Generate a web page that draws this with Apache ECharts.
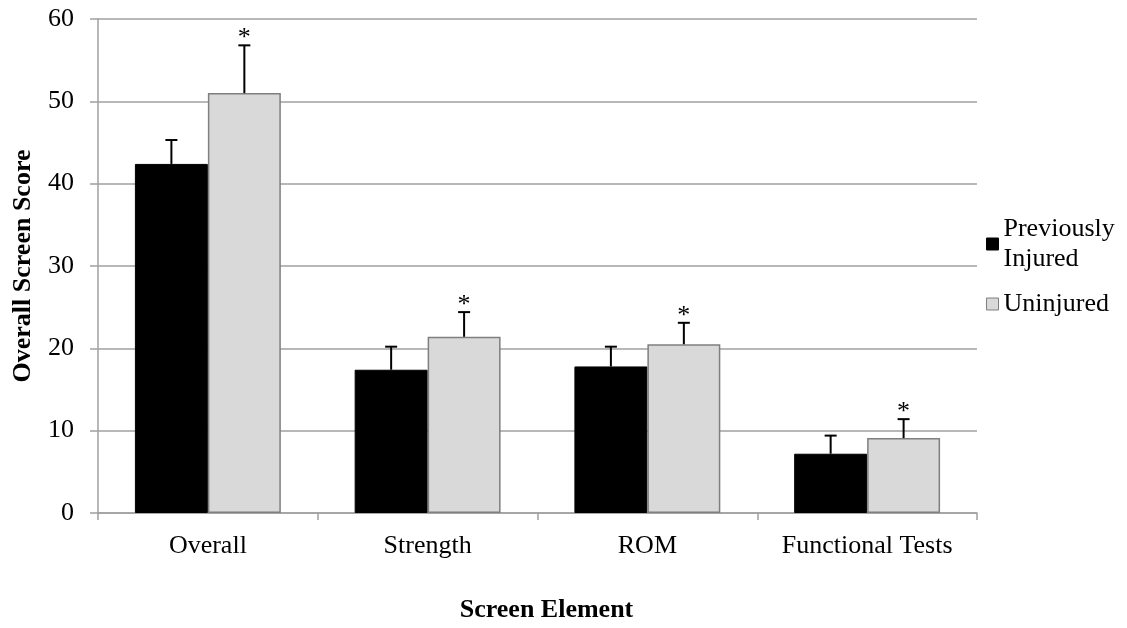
<!DOCTYPE html>
<html>
<head>
<meta charset="utf-8">
<script src="https://cdn.jsdelivr.net/npm/echarts@6/dist/echarts.min.js"></script>
<style>html,body{margin:0;padding:0;background:#fff}#c{width:1127px;height:628px}</style>
</head>
<body>
<div id="c"></div>
<script>
var categories = ['Overall', 'Strength', 'ROM', 'Functional Tests'];
var injured = [42.4, 17.4, 17.8, 7.2];
var injuredErr = [2.9, 2.8, 2.4, 2.2];
var uninjured = [51.0, 21.4, 20.5, 9.1];
var uninjuredErr = [5.8, 3.0, 2.6, 2.3];
var uninjuredSig = ['*', '*', '*', '*'];
var yTicks = [0, 10, 20, 30, 40, 50, 60];

var FONT = 'Liberation Serif, Times New Roman, serif';
var FS = 26;
var CAT_GAP = 0.336;

function errSeries(name, vals, errs, sign, marks) {
  var data = vals.map(function (v, i) { return [i, v, v + errs[i], marks ? marks[i] : '']; });
  return {
    type: 'custom',
    name: name + ' err',
    z: 5,
    silent: true,
    data: data,
    encode: { x: 0, y: [1, 2] },
    renderItem: function (params, api) {
      var band = api.size([1, 0])[0];
      var off = sign * band * (1 - CAT_GAP) / 4;
      var base = api.coord([api.value(0), api.value(1)]);
      var top = api.coord([api.value(0), api.value(2)]);
      var x = base[0] + off;
      var cap = 6;
      var children = [
        { type: 'line', shape: { x1: x, y1: base[1], x2: x, y2: top[1] }, style: { stroke: '#000', lineWidth: 2 } },
        { type: 'line', shape: { x1: x - cap, y1: top[1], x2: x + cap, y2: top[1] }, style: { stroke: '#000', lineWidth: 2 } }
      ];
      var m = api.value(3);
      if (m) {
        children.push({ type: 'text', style: { text: m, x: x, y: top[1] - 7, align: 'center', verticalAlign: 'middle', font: FS + 'px ' + FONT, fill: '#000' } });
      }
      return { type: 'group', children: children };
    }
  };
}

var chart = echarts.init(document.getElementById('c'));
chart.setOption({
  animation: false,
  backgroundColor: '#fff',
  textStyle: { fontFamily: FONT },
  grid: { left: 98, right: 150, top: 19, bottom: 115, containLabel: false },
  legend: {
    orient: 'vertical',
    left: 986,
    top: 199,
    padding: 0,
    itemWidth: 12,
    itemHeight: 12,
    itemGap: 0,
    icon: 'rect',
    selectedMode: false,
    textStyle: { fontFamily: FONT, fontSize: FS, color: '#000', lineHeight: 30 },
    data: [
      { name: 'Previously\nInjured', textStyle: { padding: [30, 0, 0, 0] }, itemStyle: { color: '#000', borderColor: '#000', borderWidth: 1 } },
      { name: 'Uninjured', itemStyle: { color: '#d9d9d9', borderColor: '#7f7f7f', borderWidth: 1 } }
    ]
  },
  xAxis: {
    type: 'category',
    data: categories,
    name: 'Screen Element',
    nameLocation: 'middle',
    nameGap: 97,
    nameTextStyle: { fontFamily: FONT, fontSize: FS, fontWeight: 'bold', color: '#000', verticalAlign: 'middle', padding: [0, 0, 0, 18] },
    axisLine: { lineStyle: { color: '#a0a0a0', width: 1.5 } },
    axisTick: { show: true, interval: 0, length: 7, lineStyle: { color: '#a0a0a0', width: 1.5 } },
    axisLabel: { interval: 0, hideOverlap: false, fontFamily: FONT, fontSize: FS, color: '#000', margin: 20 }
  },
  yAxis: {
    type: 'value',
    min: 0,
    max: 60,
    interval: 10,
    name: 'Overall Screen Score',
    nameLocation: 'middle',
    nameGap: 75,
    nameTextStyle: { fontFamily: FONT, fontSize: FS, fontWeight: 'bold', color: '#000', verticalAlign: 'middle' },
    axisLine: { show: true, lineStyle: { color: '#a0a0a0', width: 1.5 } },
    axisTick: { show: true, length: 8, lineStyle: { color: '#a0a0a0', width: 1.5 } },
    axisLabel: { fontFamily: FONT, fontSize: FS, color: '#000', margin: 24,
      formatter: function (v) { return yTicks.indexOf(v) >= 0 ? String(v) : ''; } },
    splitLine: { lineStyle: { color: '#a0a0a0', width: 1.5 } }
  },
  series: [
    { type: 'bar', name: 'Previously\nInjured', data: injured, barGap: '0%', barCategoryGap: (CAT_GAP * 100) + '%',
      itemStyle: { color: '#000', borderColor: '#000', borderWidth: 1 } },
    { type: 'bar', name: 'Uninjured', data: uninjured,
      itemStyle: { color: '#d9d9d9', borderColor: '#7f7f7f', borderWidth: 1.5 } },
    errSeries('Previously Injured', injured, injuredErr, -1, null),
    errSeries('Uninjured', uninjured, uninjuredErr, 1, uninjuredSig)
  ]
});
</script>
</body>
</html>
